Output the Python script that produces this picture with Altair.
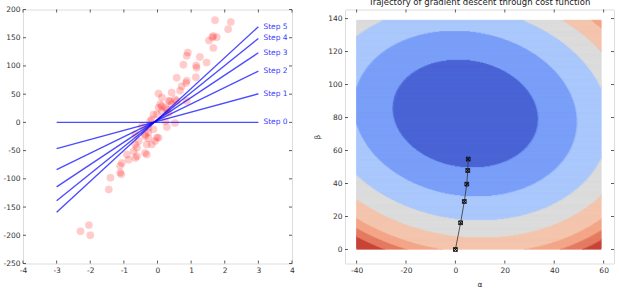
import altair as alt
import numpy as np
import pandas as pd

# ---------------- data ----------------
scatter_x = [1.71, 2.18, 2.10, 1.63, 1.76, 1.53, 1.66, 0.90, 0.87, 1.26, 1.46, 0.77, 1.15, 1.16,
             1.14, 0.57, 0.87, 0.85, 0.72, 0.42, 0.67, 0.03, 0.13, 0.33, 0.52, 0.87, 0.08, 0.23,
             0.42, 0.13, 0.33, -0.12, 0.23, 0.52, 0.28, -0.22, -0.12, -0.27, -0.02, -0.37, -0.27,
             -0.17, -0.56, -0.61, -0.66, -0.32, -0.91, -0.86, -0.66, -1.06, -1.11, -1.08, -1.40,
             -1.45, -2.04, -2.29, -2.00, -0.27, -0.46, -0.07, 0.37, 0.13, 0.28, -0.02, -0.17,
             -0.37, -0.66, -0.32, 0.03, -0.71, -0.61, -0.37, -1.11, 0.03, 0.57, 1.66]
scatter_y = [181, 178, 165, 151, 151, 145, 132, 124, 118, 116, 106, 102, 101, 97,
             80, 79, 74, 70, 64, 53, 56, 51, 44, 38, 41, 38, 32, 26,
             32, 20, 17, 14, 2, -1, -8, 2, -12, -18, -27, -24, -28,
             -39, -33, -45, -39, -57, -57, -66, -63, -72, -77, -92, -98,
             -119, -182, -193, -200, -9, -7, -33, 38, 29, 23, 14, 5,
             -21, -21, -39, -27, -51, -60, -54, -89, 26, 38, 153]

traj_alpha = [0.0, 2.1, 3.6, 4.6, 5.0, 5.2]
traj_beta = [0.0, 16.2, 29.1, 39.6, 47.9, 54.8]
step_names = ["Step 0", "Step 1", "Step 2", "Step 3", "Step 4", "Step 5"]
line_x = [-3, 3]

alpha_grid = [-40, 59]
beta_grid = [0, 139]
cost_min = [4.0, 82.5]            # (alpha, beta) of the minimum
cost_coef = [1.24, 1.0, 0.11]     # alpha^2, beta^2, cross weights
cost_levels = [1060, 2500, 4150, 5600, 7050, 7900, 8700]
band_colors = ["#4b65d5", "#7b9ff9", "#abc8fd", "#dcdcdc",
               "#f4c5ae", "#f4a689", "#e57c63", "#c9453a"]

left_xticks = [-4, -3, -2, -1, 0, 1, 2, 3, 4]
left_yticks = [-250, -200, -150, -100, -50, 0, 50, 100, 150, 200]
right_xticks = [-40, -20, 0, 20, 40, 60]
right_yticks = [0, 20, 40, 60, 80, 100, 120, 140]

title_text = "Trajectory of gradient descent through cost function"

# ---------------- helpers ----------------
W, H = 269, 254
FONT = "DejaVu Sans"
TICK = 3


def make_axis(values, title=None):
    kw = dict(values=values, ticks=False, domain=False, grid=False,
              labelFont=FONT, labelFontSize=7.5, labelColor="#333",
              labelPadding=3, labelExpr="'' + datum.value",
              labelFlush=False, labelOverlap=False, title=title)
    if title:
        kw.update(titleFont=FONT, titleFontSize=7.5, titleFontWeight="normal",
                  titleColor="#333", titlePadding=6)
    return alt.Axis(**kw)


def tick_layers(xt, yt, xs, ys, ax, ay):
    xdf = pd.DataFrame({"tv": xt})
    ydf = pd.DataFrame({"tv": yt})
    base_x = alt.Chart(xdf).mark_rule(color="#333", strokeWidth=0.8)
    base_y = alt.Chart(ydf).mark_rule(color="#333", strokeWidth=0.8)
    X = alt.X("tv:Q", scale=xs, axis=ax)
    Y = alt.Y("tv:Q", scale=ys, axis=ay)
    return [
        base_x.encode(x=X, y=alt.value(H), y2=alt.value(H - TICK)),
        base_x.encode(x=X, y=alt.value(0), y2=alt.value(TICK)),
        base_y.encode(y=Y, x=alt.value(0), x2=alt.value(TICK)),
        base_y.encode(y=Y, x=alt.value(W), x2=alt.value(W - TICK)),
    ]


# ---------------- left panel ----------------
lx = alt.Scale(domain=[-4, 4], nice=False, zero=False)
ly = alt.Scale(domain=[-250, 200], nice=False, zero=False)
ax_lx = make_axis(left_xticks)
ax_ly = make_axis(left_yticks)

pts = pd.DataFrame({"x": scatter_x, "y": scatter_y})
scatter = alt.Chart(pts).mark_circle(size=56, color="red", opacity=0.2,
                                     stroke="red", strokeWidth=0.8, strokeOpacity=0.3).encode(
    x=alt.X("x:Q", scale=lx, axis=ax_lx), y=alt.Y("y:Q", scale=ly, axis=ax_ly))

line_rows = []
lab_rows = []
for k, name in enumerate(step_names):
    for xv in line_x:
        line_rows.append({"step": name, "x": xv, "y": traj_alpha[k] + traj_beta[k] * xv})
    lab_rows.append({"step": name, "x": line_x[-1], "y": traj_alpha[k] + traj_beta[k] * line_x[-1]})
ldf = pd.DataFrame(line_rows)
labdf = pd.DataFrame(lab_rows)

lines = alt.Chart(ldf).mark_line(color="#0000ff", opacity=0.7, strokeWidth=1.4).encode(
    x=alt.X("x:Q", scale=lx, axis=ax_lx), y=alt.Y("y:Q", scale=ly, axis=ax_ly),
    detail="step:N")
labels = alt.Chart(labdf).mark_text(align="left", baseline="middle", dx=5, font=FONT,
                                    fontSize=7.5, color="#3a3aff").encode(
    x=alt.X("x:Q", scale=lx, axis=ax_lx), y=alt.Y("y:Q", scale=ly, axis=ax_ly), text="step:N")

left = alt.layer(scatter, lines, labels,
                 *tick_layers(left_xticks, left_yticks, lx, ly, ax_lx, ax_ly)).properties(
    width=W, height=H)

# ---------------- right panel ----------------
rx = alt.Scale(domain=[-44.7, 64.2], nice=False, zero=False)
ry = alt.Scale(domain=[-8.5, 145.5], nice=False, zero=False)
ax_rx = make_axis(right_xticks, "α")
ax_ry = make_axis(right_yticks, "β")

a_step, b_step = 0.1, 0.5
a_edges = np.round(np.arange(alpha_grid[0], alpha_grid[1] + 1e-9, a_step), 3)
a_mid = (a_edges[:-1] + a_edges[1:]) / 2
rects = []
for b0 in np.arange(beta_grid[0], beta_grid[1], b_step):
    bm = b0 + b_step / 2
    da = a_mid - cost_min[0]
    db = bm - cost_min[1]
    J = cost_coef[0] * da ** 2 + cost_coef[1] * db ** 2 + 2 * cost_coef[2] * da * db
    band = np.searchsorted(cost_levels, J)
    s = 0
    n = len(band)
    for i in range(1, n + 1):
        if i == n or band[i] != band[s]:
            a2 = a_edges[i] if i == n else min(a_edges[i] + 0.4, alpha_grid[1])
            rects.append({"a1": float(a_edges[s]), "a2": float(a2),
                          "b1": float(b0), "b2": float(min(b0 + b_step * 2.2, beta_grid[1])),
                          "band": int(band[s])})
            s = i
rdf = pd.DataFrame(rects)

cscale = alt.Scale(domain=list(range(len(band_colors))), range=band_colors)
contour = alt.Chart(rdf).mark_rect(strokeWidth=0.3).encode(
    x=alt.X("a1:Q", scale=rx, axis=ax_rx), x2="a2",
    y=alt.Y("b1:Q", scale=ry, axis=ax_ry), y2="b2",
    color=alt.Color("band:O", scale=cscale, legend=None),
    stroke=alt.Stroke("band:O", scale=cscale, legend=None))

tdf = pd.DataFrame({"a": traj_alpha, "b": traj_beta, "i": list(range(len(traj_alpha)))})
tline = alt.Chart(tdf).mark_line(color="#333", strokeWidth=0.8).encode(
    x=alt.X("a:Q", scale=rx, axis=ax_rx), y=alt.Y("b:Q", scale=ry, axis=ax_ry), order="i:Q")
tsq = alt.Chart(tdf).mark_point(shape="square", filled=False, color="#111", strokeWidth=0.9,
                                size=14, opacity=1).encode(
    x=alt.X("a:Q", scale=rx, axis=ax_rx), y=alt.Y("b:Q", scale=ry, axis=ax_ry))
tx = alt.Chart(tdf).mark_point(shape="M-1,-1L1,1M1,-1L-1,1", filled=False, color="#000",
                               strokeWidth=1, size=14, opacity=1).encode(
    x=alt.X("a:Q", scale=rx, axis=ax_rx), y=alt.Y("b:Q", scale=ry, axis=ax_ry))

right = alt.layer(contour, tline, tsq, tx,
                  *tick_layers(right_xticks, right_yticks, rx, ry, ax_rx, ax_ry)).properties(
    width=W, height=H,
    title=alt.TitleParams(text=title_text, font=FONT, fontSize=8.5, fontWeight="normal",
                          color="#222", offset=2.5, anchor="middle"))

chart = alt.hconcat(left, right, spacing=53, bounds="flush").properties(
    padding={"left": 2, "top": -2.5, "right": 0, "bottom": 0}
).configure_view(stroke="#333", strokeWidth=1).configure(font=FONT, background="white")

chart.save("out.html", embed_options={"renderer": "svg", "actions": False})
